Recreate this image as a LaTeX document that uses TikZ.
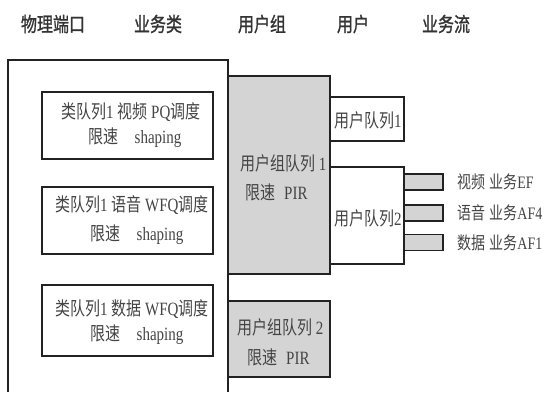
\documentclass[tikz,border=0pt]{standalone}
\usepackage{fontspec}
\usepackage{graphicx}
\setmainfont{Liberation Serif}
\newfontfamily\cjk{Noto Sans CJK SC}
\newfontfamily\cjkb[FakeBold=1.2]{Noto Sans CJK SC}
\newcommand{\tallt}[1]{\scalebox{1}[1.25]{#1}}
\definecolor{boxgray}{HTML}{D4D4D4}
\definecolor{txt}{HTML}{444444}
\definecolor{edge}{HTML}{222222}
\begin{document}
\begin{tikzpicture}[x=1pt,y=-1pt,
  box/.style={draw=edge, line width=1.3pt, inner sep=0pt, fill=white},
  graybox/.style={box, fill=boxgray},
  lbl/.style={anchor=west, inner sep=0pt, text=txt, font=\fontsize{15pt}{17pt}\selectfont},
  flbl/.style={lbl, font=\fontsize{14pt}{16pt}\selectfont},
  head/.style={inner sep=0pt, text=black!80, font=\fontsize{16pt}{18pt}\selectfont\cjkb}]
\useasboundingbox (0,0) rectangle (549,392);
% headers
\node[head] (h1) at (53,24) {\tallt{物理端口}};
\node[head] (h2) at (158,24) {\tallt{业务类}};
\node[head] (h3) at (262,24) {\tallt{用户组}};
\node[head] (h4) at (353,24) {\tallt{用户}};
\node[head] (h5) at (446,24) {\tallt{业务流}};
% physical port (open at bottom)
\coordinate (pbl) at (8,392);
\coordinate (ptl) at (8,60);
\coordinate (ptr) at (228,60);
\coordinate (pbr) at (228,392);
\draw[draw=edge, line width=1.3pt] (pbl) -- (ptl) -- (ptr) -- (pbr);
% class queues
\node[box, minimum width=171pt, minimum height=67pt] (c1) at (127.5,125.5) {};
\node[box, minimum width=171pt, minimum height=67pt] (c2) at (127.5,220.5) {};
\node[box, minimum width=171pt, minimum height=71pt] (c3) at (127.5,320.5) {};
\node[lbl] (c1a) at (61,112) {\tallt{{\cjk 类队列}1 {\cjk 视频} PQ{\cjk 调度}}};
\node[lbl] (c1b) at (88,138) {\tallt{{\cjk 限速}\hspace{1.1em}shaping}};
\node[lbl] (c2a) at (55,205) {\tallt{{\cjk 类队列}1 {\cjk 语音} WFQ{\cjk 调度}}};
\node[lbl] (c2b) at (90,235) {\tallt{{\cjk 限速}\hspace{1.1em}shaping}};
\node[lbl] (c3a) at (55,309) {\tallt{{\cjk 类队列}1 {\cjk 数据} WFQ{\cjk 调度}}};
\node[lbl] (c3b) at (90,335) {\tallt{{\cjk 限速}\hspace{1.1em}shaping}};
% user groups
\node[graybox, minimum width=102pt, minimum height=198pt] (g1) at (279,175) {};
\node[graybox, minimum width=102pt, minimum height=76pt] (g2) at (279,339) {};
\node[lbl] (g1a) at (240,163) {\tallt{{\cjk 用户组队列} 1}};
\node[lbl] (g1b) at (245,192) {\tallt{{\cjk 限速}\hspace{0.6em}PIR}};
\node[lbl] (g2a) at (237,327) {\tallt{{\cjk 用户组队列} 2}};
\node[lbl] (g2b) at (247,357) {\tallt{{\cjk 限速}\hspace{0.6em}PIR}};
% users
\node[box, minimum width=74pt, minimum height=44pt] (u1) at (367,119) {};
\node[box, minimum width=74pt, minimum height=97pt] (u2) at (367,215.5) {};
\node[lbl] (u1a) at (334,120) {\tallt{{\cjk 用户队列}1}};
\node[lbl] (u2a) at (334,218) {\tallt{{\cjk 用户队列}2}};
% flows
\node[graybox, minimum width=39pt, minimum height=16pt] (f1) at (423.5,182) {};
\node[graybox, minimum width=39pt, minimum height=16pt] (f2) at (423.5,213) {};
\node[graybox, minimum width=39pt, minimum height=16pt] (f3) at (423.5,242.5) {};
\node[flbl] (f1a) at (457,182) {\tallt{{\cjk 视频}\hspace{0.3em}{\cjk 业务}EF}};
\node[flbl] (f2a) at (457,213) {\tallt{{\cjk 语音}\hspace{0.3em}{\cjk 业务}AF4}};
\node[flbl] (f3a) at (457,243) {\tallt{{\cjk 数据}\hspace{0.3em}{\cjk 业务}AF1}};
\end{tikzpicture}
\end{document}
